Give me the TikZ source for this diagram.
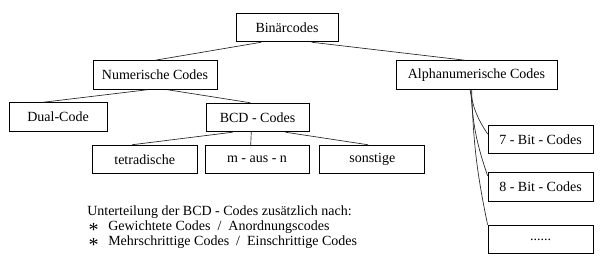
\documentclass[tikz,border=0pt]{standalone}
\usepackage{fontspec}
\setmainfont{Liberation Serif}
\usetikzlibrary{positioning, calc}

\newcommand{\notestar}{\makebox[15.75pt][l]{\hspace{1pt}\raisebox{-0.9ex}[0pt][0pt]{\fontsize{15}{15}\selectfont *}}}

\begin{document}
\begin{tikzpicture}[
    x=0.75pt, y=-0.75pt,
    every node/.style={font=\fontsize{10.5}{12}\selectfont},
    codebox/.style={rectangle, draw, line width=0.6pt, minimum height=21.5pt,
                    inner sep=2pt, align=center, fill=white},
    link/.style={draw=black!85, line width=0.5pt}
]
\useasboundingbox (0,0) rectangle (604,270);

% Top: Binaercodes
\node[codebox, minimum width=76.5pt] (bin) at (287,27.5) {Binärcodes};

% Second level
\node[codebox, minimum width=93pt] (num) at (155,75) {Numerische Codes};
\node[codebox, minimum width=120.75pt] (alpha) at (476.5,75) {Alphanumerische Codes};

% Third level
\node[codebox, minimum width=73.5pt] (dual) at (58,117) {Dual-Code};
\node[codebox, minimum width=77.25pt] (bcd) at (257.5,117.5) {BCD - Codes};

% BCD subgroups (side-by-side)
\node[codebox, minimum width=78pt] (maus) at (257,159.5) {m - aus - n};
\node[codebox, minimum width=78.75pt, left=5.25pt of maus] (tetra) {tetradische};
\node[codebox, minimum width=78.75pt, right=7.5pt of maus] (sonst) {sonstige};

% Alphanumeric subgroups (stacked on the right)
\node[codebox, minimum width=78.75pt] (b7) at (540.5,139.5) {7 - Bit - Codes};
\node[codebox, minimum width=78.75pt, below=13.5pt of b7] (b8) {8 - Bit - Codes};
\node[codebox, minimum width=78.75pt, below=17.25pt of b8] (more) {......};

% Note below the tree
\node[anchor=north west, align=left, inner sep=0pt,
      font=\fontsize{10.5}{11.25}\selectfont] (note) at (87,206)
    {Unterteilung der BCD - Codes zusätzlich nach:\\
     \notestar Gewichtete Codes\enspace/\enspace Anordnungscodes\\
     \notestar Mehrschrittige Codes\enspace/\enspace Einschrittige Codes};

% Tree lines
\draw[link] ($(bin.south west)!0.25!(bin.south east)$) -- (num.north);
\draw[link] ($(bin.south west)!0.74!(bin.south east)$) -- ($(alpha.north west)!0.43!(alpha.north east)$);
\draw[link] ($(num.south west)!0.44!(num.south east)$) -- ($(dual.north west)!0.35!(dual.north east)$);
\draw[link] ($(num.south west)!0.6!(num.south east)$) -- ($(bcd.north west)!0.43!(bcd.north east)$);
\draw[link] ($(bcd.south west)!0.26!(bcd.south east)$) -- ($(tetra.north west)!0.38!(tetra.north east)$);
\draw[link] ($(bcd.south west)!0.44!(bcd.south east)$) -- ($(maus.north west)!0.44!(maus.north east)$);
\draw[link] ($(bcd.south west)!0.77!(bcd.south east)$) -- ($(sonst.north west)!0.46!(sonst.north east)$);

% Curved lines to the stacked boxes
\draw[link] ($(alpha.south west)!0.46!(alpha.south east)$) to[bend right=12] (b7.174);
\draw[link] ($(alpha.south west)!0.465!(alpha.south east)$) to[bend right=8] (b8.168);
\draw[link] ($(alpha.south west)!0.47!(alpha.south east)$) to[bend right=5] (more.north west);

\end{tikzpicture}
\end{document}
